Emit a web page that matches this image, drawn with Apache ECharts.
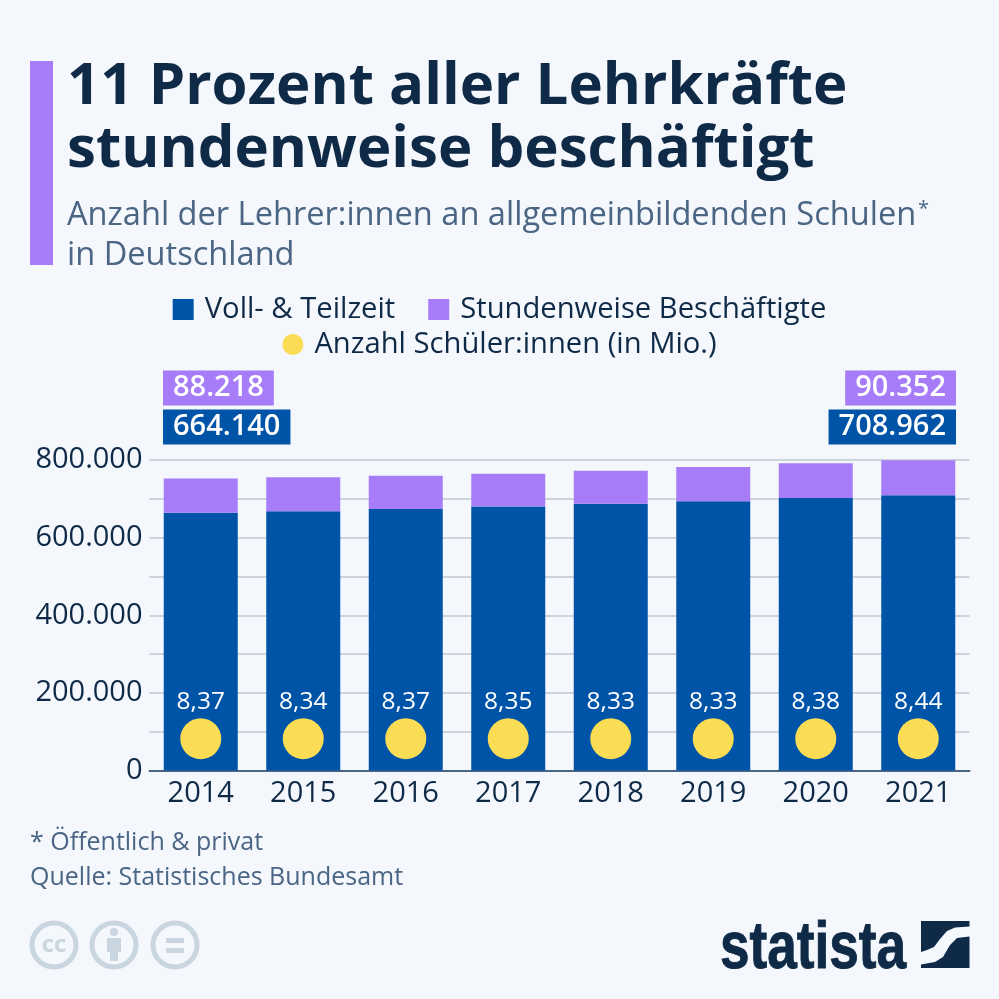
<!DOCTYPE html>
<html>
<head>
<meta charset="UTF-8">
<title>Lehrkräfte</title>
<script src="https://cdn.jsdelivr.net/npm/echarts@6/dist/echarts.min.js"></script>
<style>
  html, body { margin: 0; padding: 0; background: #f4f7fb; }
  #chart { width: 999px; height: 999px; }
</style>
</head>
<body>
<div id="chart"></div>
<script>
var years = ['2014', '2015', '2016', '2017', '2018', '2019', '2020', '2021'];
var fullPart = [664140, 668000, 674000, 680000, 687000, 694000, 702000, 708962];
var hourly = [88218, 87500, 85500, 84500, 85500, 88000, 89500, 90352];
var pupils = [8.37, 8.34, 8.37, 8.35, 8.33, 8.33, 8.38, 8.44];
var yTicks = ['0', '200.000', '400.000', '600.000', '800.000'];

var NAVY = '#0f2a47', SLATE = '#4b6584', BLUE = '#0054a8', PURPLE = '#a67cf8', YELLOW = '#fbdc55', CCGREY = '#c9d5df';
var FONT = '"Open Sans"';
var dotLevel = 82000; // dots sit on one line, they do not encode height

function de(n) { return String(n).replace(/\B(?=(\d{3})+$)/g, '.'); }

function plain(x, y, str, size, weight, color, extra) {
  var style = { x: x, y: y, text: str, fontFamily: FONT, fontSize: size, fontWeight: weight, fill: color };
  for (var k in extra) style[k] = extra[k];
  return { type: 'text', style: style };
}

function callout(x, y, str, bg, alignRight) {
  return { type: 'text', style: {
    x: x, y: y, text: str, fontFamily: FONT, fontSize: 29, fontWeight: 600, fill: '#fff',
    backgroundColor: bg, padding: [3, 10, 3, 10], align: alignRight ? 'right' : 'left', verticalAlign: 'middle'
  } };
}

var legendText = { fontFamily: FONT, fontSize: 29.2, color: NAVY, padding: [0, 0, 0, 6] };

var myChart = echarts.init(document.getElementById('chart'));
myChart.setOption({
  backgroundColor: '#f4f7fb',
  animation: false,
  textStyle: { fontFamily: FONT },
  legend: [
    { data: [{ name: 'Voll- & Teilzeit' }, { name: 'Stundenweise Beschäftigte' }], top: 290, left: 'center', itemWidth: 21, itemHeight: 21, itemGap: 33, icon: 'rect',
      textStyle: legendText },
    { data: [{ name: 'Anzahl Schüler:innen (in Mio.)' }], top: 325, left: 'center', itemWidth: 21, itemHeight: 21, icon: 'circle',
      textStyle: legendText }
  ],
  grid: { left: 149.5, right: 29.5, top: 460, bottom: 228.5, containLabel: false },
  xAxis: {
    type: 'category', data: years,
    axisTick: { show: false },
    axisLine: { lineStyle: { color: SLATE, width: 2 } },
    axisLabel: { fontFamily: FONT, fontSize: 29, color: NAVY, margin: 9 }
  },
  yAxis: {
    type: 'value', min: 0, max: 800000, interval: 100000,
    axisLine: { show: false }, axisTick: { show: false },
    splitLine: { lineStyle: { color: '#cdd3dc', width: 2 } },
    axisLabel: { fontFamily: FONT, fontSize: 29, color: NAVY, margin: 7, padding: [2, 0, 0, 0],
      formatter: function (v) { return v % 200000 ? '' : yTicks[v / 200000]; } }
  },
  series: [
    { name: 'Voll- & Teilzeit', type: 'bar', stack: 'a', data: fullPart, barWidth: 74, itemStyle: { color: BLUE } },
    { name: 'Stundenweise Beschäftigte', type: 'bar', stack: 'a', data: hourly, itemStyle: { color: PURPLE } },
    { name: 'Anzahl Schüler:innen (in Mio.)', type: 'scatter', symbolSize: 41, itemStyle: { color: YELLOW, opacity: 1 },
      data: pupils.map(function (p, i) { return [years[i], dotLevel]; }),
      label: { show: true, position: 'top', distance: 4, fontFamily: FONT, fontSize: 24.5, color: '#fff',
        formatter: function (o) { return pupils[o.dataIndex].toFixed(2).replace('.', ','); } } }
  ],
  graphic: [
    { type: 'rect', shape: { x: 30, y: 61, width: 23, height: 204 }, style: { fill: PURPLE } },
    plain(67, 58, '11 Prozent aller Lehrkräfte', 58.2, 700, NAVY),
    plain(67, 121, 'stundenweise beschäftigt', 58.2, 700, NAVY),
    plain(67, 199, 'Anzahl der Lehrer:innen an allgemeinbildenden Schulen', 32.6, 400, SLATE),
    plain(918, 199, '*', 20, 400, SLATE),
    plain(67, 239, 'in Deutschland', 32.6, 400, SLATE),
    callout(163, 388, de(hourly[0]), PURPLE),
    callout(163, 427, de(fullPart[0]), BLUE),
    callout(956, 388, de(hourly[7]), PURPLE, true),
    callout(956, 427, de(fullPart[7]), BLUE, true),
    plain(30, 830, '* Öffentlich & privat', 25, 400, SLATE),
    plain(30, 865, 'Quelle: Statistisches Bundesamt', 25, 400, SLATE),
    { type: 'circle', shape: { cx: 54, cy: 945, r: 22 }, style: { fill: 'none', stroke: CCGREY, lineWidth: 5 } },
    plain(54, 945, 'cc', 24, 700, CCGREY, { align: 'center', verticalAlign: 'middle' }),
    { type: 'circle', shape: { cx: 114, cy: 945, r: 22 }, style: { fill: 'none', stroke: CCGREY, lineWidth: 5 } },
    { type: 'circle', shape: { cx: 114, cy: 932, r: 4 }, style: { fill: CCGREY } },
    { type: 'rect', shape: { x: 107, y: 938, width: 14, height: 14 }, style: { fill: CCGREY } },
    { type: 'rect', shape: { x: 110, y: 950, width: 8, height: 11 }, style: { fill: CCGREY } },
    { type: 'circle', shape: { cx: 175, cy: 945, r: 22 }, style: { fill: 'none', stroke: CCGREY, lineWidth: 5 } },
    { type: 'rect', shape: { x: 166, y: 938, width: 18, height: 5 }, style: { fill: CCGREY } },
    { type: 'rect', shape: { x: 166, y: 948, width: 18, height: 5 }, style: { fill: CCGREY } },
    { type: 'text', scaleX: 0.805, x: 720, y: 917, style: { x: 0, y: 0, text: 'statista', fontFamily: 'Liberation Sans', fontSize: 66, fontWeight: 700, fill: NAVY, stroke: NAVY, lineWidth: 1 } },
    { type: 'polygon', shape: { points: [[921, 921], [969.5, 921], [969.5, 926.5], [955, 927.5], [947, 931], [940, 939], [934, 947], [927, 950], [921, 952]] }, style: { fill: NAVY } },
    { type: 'polygon', shape: { points: [[969.5, 936.5], [957, 938], [950, 945], [943, 957], [935, 962], [921, 964.5], [921, 968], [969.5, 968]] }, style: { fill: NAVY } }
  ]
});
</script>
</body>
</html>
